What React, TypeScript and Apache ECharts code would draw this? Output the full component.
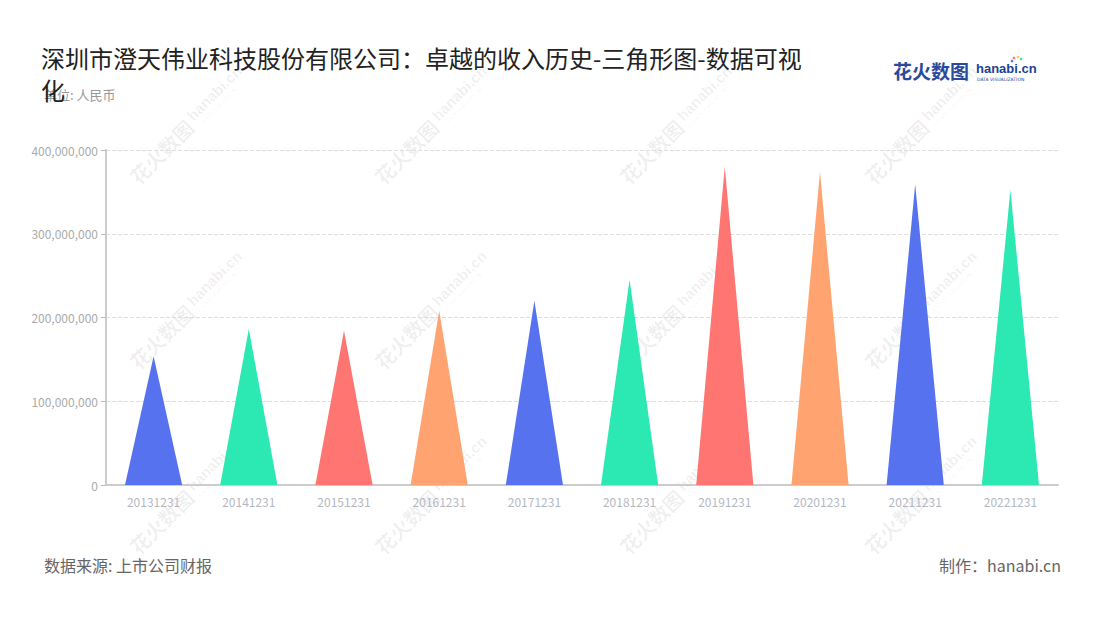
import React, { useEffect, useRef } from "react";
import * as echarts from "echarts";

const categories = [
  "20131231", "20141231", "20151231", "20161231", "20171231",
  "20181231", "20191231", "20201231", "20211231", "20221231",
];
const revenue = [
  153600000, 186300000, 184200000, 208000000, 220000000,
  245000000, 380000000, 374000000, 359000000, 352600000,
];
const palette = ["#5772EF", "#2CE8B2", "#FF7571", "#FFA470"];
const colorIndex = [0, 1, 2, 3, 0, 1, 2, 3, 0, 1];
const yTicks = [0, 100000000, 200000000, 300000000, 400000000];

const titleText = "深圳市澄天伟业科技股份有限公司：卓越的收入历史-三角形图-数据可视化";
const subText = "单位: 人民币";
const sourceText = "数据来源: 上市公司财报";
const makerText = "制作：hanabi.cn";

const FONT = "'Noto Sans CJK SC', 'Noto Sans', sans-serif";
const WM = "rgba(0,0,0,0.065)";

function watermark(x: number, y: number) {
  return {
    type: "group",
    x,
    y,
    rotation: Math.PI / 4,
    silent: true,
    z: 100,
    children: [
      {
        type: "text",
        x: 0,
        y: 0,
        style: {
          text: "花火数图",
          fontSize: 20,
          fontWeight: "bold",
          fontFamily: FONT,
          fill: WM,
          align: "left",
          verticalAlign: "middle",
        },
      },
      {
        type: "text",
        x: 84,
        y: -4,
        style: {
          text: "hanabi.cn",
          fontSize: 15,
          fontWeight: "bold",
          fontFamily: "'Liberation Sans', sans-serif",
          fill: WM,
          align: "left",
          verticalAlign: "middle",
        },
      },
      {
        type: "text",
        x: 85,
        y: 8,
        style: {
          text: "DATA VISUALIZATION",
          fontSize: 5,
          fontFamily: "'DejaVu Sans', sans-serif",
          fill: WM,
          align: "left",
          verticalAlign: "middle",
        },
      },
    ],
  };
}

export default function App() {
  const ref = useRef<HTMLDivElement>(null);
  useEffect(() => {
    if (!ref.current) return;
    const chart = echarts.init(ref.current, null, { renderer: "svg" });
    const wmCols = [133, 378, 623, 868];
    const wmRows = [180, 365, 550];
    const wms: any[] = [];
    wmRows.forEach((ry) => wmCols.forEach((cx) => wms.push(watermark(cx, ry))));

    chart.setOption({
      animation: false,
      backgroundColor: "#ffffff",
      title: {
        text: titleText,
        left: 36,
        top: 36,
        textStyle: {
          fontSize: 24,
          fontWeight: "normal",
          color: "#222222",
          fontFamily: FONT,
          width: 770,
          overflow: "break",
          lineHeight: 32,
        },
      },
      grid: { left: 106, right: 42, top: 150, bottom: 135 },
      xAxis: {
        type: "category",
        data: categories,
        axisLine: { lineStyle: { color: "#cccccc", width: 2 } },
        axisTick: { alignWithLabel: true, lineStyle: { color: "#bbbbbb" } },
        axisLabel: { color: "#b4b8c2", fontSize: 12, margin: 10, fontFamily: FONT },
      },
      yAxis: {
        type: "value",
        min: yTicks[0],
        max: yTicks[yTicks.length - 1],
        interval: 100000000,
        axisLine: { show: true, lineStyle: { color: "#cccccc", width: 2 } },
        axisTick: { show: true, lineStyle: { color: "#bbbbbb" } },
        axisLabel: {
          color: "#aaaaaa",
          fontSize: 12,
          fontFamily: FONT,
          formatter: (v: number) => v.toLocaleString("en-US"),
        },
        splitLine: { lineStyle: { color: "#dddddd", type: "dashed" } },
      },
      series: [
        {
          type: "pictorialBar",
          symbol: "triangle",
          symbolSize: [57, "100%"],
          data: revenue.map((v, i) => ({
            value: v,
            itemStyle: { color: palette[colorIndex[i]] },
          })),
        },
      ],
      graphic: [
        {
          type: "text",
          left: 44,
          top: 88,
          style: { text: subText, fontSize: 13, fill: "#999999", fontFamily: FONT },
        },
        {
          type: "text",
          left: 893,
          top: 61,
          style: {
            text: "花火数图",
            fontSize: 19,
            fontWeight: "bold",
            fill: "#2c4a9c",
            fontFamily: FONT,
          },
        },
        {
          type: "text",
          left: 976,
          top: 62,
          style: {
            text: "hanabi.cn",
            fontSize: 13,
            fontWeight: "bold",
            fill: "#1e3f96",
            fontFamily: "'Liberation Sans', sans-serif",
          },
        },
        {
          type: "text",
          left: 977,
          top: 77,
          style: {
            text: "DATA VISUALIZATION",
            fontSize: 4.5,
            fill: "#1e3f96",
            fontFamily: "'DejaVu Sans', sans-serif",
          },
        },
        { type: "circle", shape: { cx: 1012, cy: 61, r: 1.3 }, style: { fill: "#5772ef" } },
        { type: "circle", shape: { cx: 1014, cy: 58, r: 1.3 }, style: { fill: "#ff7571" } },
        { type: "circle", shape: { cx: 1018, cy: 57, r: 1.3 }, style: { fill: "#ffc84a" } },
        { type: "circle", shape: { cx: 1021, cy: 59, r: 1.3 }, style: { fill: "#2ce8b2" } },
        {
          type: "text",
          left: 44,
          top: 557,
          style: { text: sourceText, fontSize: 16, fill: "#666666", fontFamily: FONT },
        },
        {
          type: "text",
          right: 39,
          top: 557,
          style: { text: makerText, fontSize: 16, fill: "#666666", fontFamily: FONT },
        },
        ...wms,
      ],
    });
    return () => chart.dispose();
  }, []);
  return <div ref={ref} style={{ width: 1100, height: 620, margin: -8 }} />;
}
